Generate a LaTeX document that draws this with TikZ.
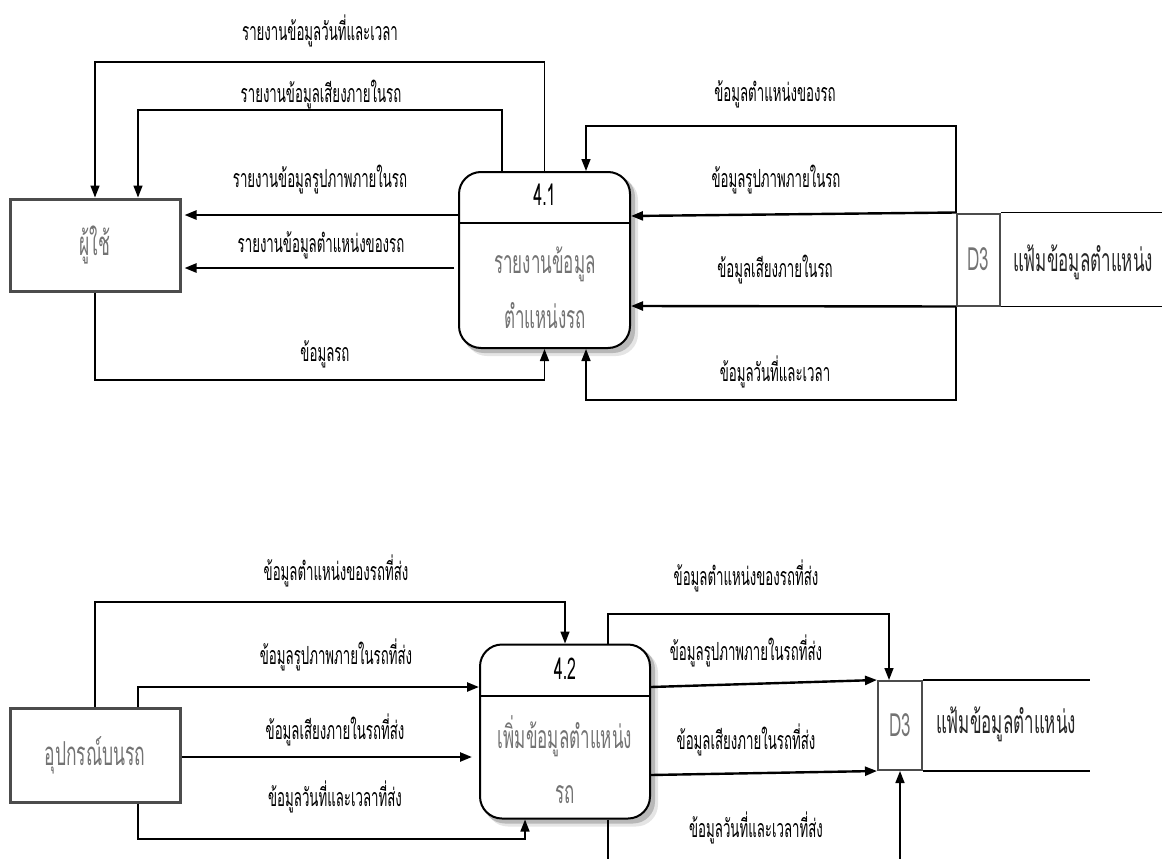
\documentclass[tikz,border=0pt]{standalone}
\usepackage{fontspec}
\setmainfont{Liberation Sans}
\newfontfamily\thaifont[Script=Thai,FakeStretch=0.53]{Loma}
\usetikzlibrary{arrows.meta,backgrounds}

\tikzset{
  flow/.style={line width=1.5pt,-{Triangle[length=12pt,width=9pt]}},
  bigflow/.style={flow,line width=2.4pt},
  lbl/.style={anchor=center,inner sep=0pt,font=\thaifont\fontsize{25}{28}\selectfont},
  extbox/.style={draw=black!70,line width=3pt,minimum width=170pt,minimum height=92pt,
    text=black!55,font=\thaifont\fontsize{33}{36}\selectfont},
  procbox/.style={draw=black,line width=2pt,rounded corners=22pt,fill=white},
  pshadow/.style={rounded corners=22pt},
  ptitle/.style={inner sep=0pt,font=\thaifont\fontsize{30}{32}\selectfont},
  ptext/.style={inner sep=0pt,align=center,text=black!55,font=\thaifont\fontsize{32}{55}\selectfont},
  storeid/.style={draw=black!70,line width=2pt,minimum width=43pt,minimum height=92pt,
    text=black!55,font=\thaifont\fontsize{32}{34}\selectfont},
  storename/.style={inner sep=0pt,text=black!85,font=\thaifont\fontsize{32}{36}\selectfont},
}

\begin{document}
\begin{tikzpicture}[x=1pt, y=-1pt, line cap=butt, line join=miter]

  %% ════ top half: 4.1 ════
  \node[extbox] (user) at (95,245) {ผู้ใช้};
  \node[procbox,minimum width=171pt,minimum height=176pt] (p41) at (544.5,260) {};
  \draw[line width=1.5pt] (p41.west |- 0,223) -- (p41.east |- 0,223);
  \node[ptitle] (p41id) at (544.5,195) {4.1};
  \node[ptext] (p41txt) at (545,288) {รายงานข้อมูล\\ตำแหน่งรถ};

  \node[storeid] (d3a) at (978.5,259.5) {D3};
  \draw[line width=1.5pt] (d3a.north east) -- (1162,0 |- d3a.north east);
  \draw[line width=1.5pt] (d3a.south east) -- (1162,0 |- d3a.south east);
  \node[storename] (d3aname) at (1083,262) {แฟ้มข้อมูลตำแหน่ง};

  \draw[flow]    (p41.north) |- (95,62) -- (user.north);
  \draw[flow]    (502,0 |- p41.north) |- (138,110) -- (138,0 |- user.north);
  \draw[bigflow,shorten >=3pt] (p41.west |- 0,215) -- (user.east |- 0,215);
  \draw[bigflow,shorten <=4pt,shorten >=3pt] (p41.west |- 0,268) -- (user.east |- 0,268);
  \draw[flow]    (user.south) |- (544.5,380) -- (p41.south);

  \draw[flow]    (d3a.north west) |- (586,126) -- (586,0 |- p41.north);
  \draw[bigflow] (d3a.north west) -- (p41.east |- 0,216);
  \draw[bigflow] (d3a.south west) -- (p41.east |- 0,306);
  \draw[flow]    (d3a.south west) |- (586,400) -- (586,0 |- p41.south);

  \node[lbl] (t1) at (320,31)  {รายงานข้อมูลวันที่และเวลา};
  \node[lbl] (t2) at (321,95)  {รายงานข้อมูลเสียงภายในรถ};
  \node[lbl] (t3) at (320,180) {รายงานข้อมูลรูปภาพภายในรถ};
  \node[lbl] (t4) at (321,245) {รายงานข้อมูลตำแหน่งของรถ};
  \node[lbl] (t5) at (325,354) {ข้อมูลรถ};
  \node[lbl] (t6) at (775,94)  {ข้อมูลตำแหน่งของรถ};
  \node[lbl] (t7) at (776,180) {ข้อมูลรูปภาพภายในรถ};
  \node[lbl] (t8) at (775,270) {ข้อมูลเสียงภายในรถ};
  \node[lbl] (t9) at (775,372) {ข้อมูลวันที่และเวลา};

  %% ════ bottom half: 4.2 ════
  \node[extbox,minimum height=94pt] (dev) at (95,755) {อุปกรณ์บนรถ};
  \node[procbox,minimum width=170pt,minimum height=174pt] (p42) at (565,731.5) {};
  \draw[line width=1.5pt] (p42.west |- 0,696) -- (p42.east |- 0,696);
  \node[ptitle] (p42id) at (565,669) {4.2};
  \node[ptext] (p42txt) at (565,759.5) {เพิ่มข้อมูลตำแหน่ง\\รถ};

  \node[storeid,minimum width=44pt,minimum height=89pt] (d3b) at (900,725.5) {D3};
  \draw[line width=1.5pt] (d3b.north east) -- (1090,0 |- d3b.north east);
  \draw[line width=1.5pt] (d3b.south east) -- (1090,0 |- d3b.south east);
  \node[storename] (d3bname) at (1006,724) {แฟ้มข้อมูลตำแหน่ง};

  \draw[flow]    (dev.north) |- (565,602) -- (p42.north);
  \draw[bigflow] (138,0 |- dev.north) |- (p42.west |- 0,687);
  \draw[bigflow,shorten >=7pt] (dev.east |- 0,757) -- (p42.west |- 0,757);
  \draw[flow]    (138,0 |- dev.south) |- (525,839) -- (525,0 |- p42.south);

  \draw[flow]    (608,0 |- p42.north) |- (889,614) -- (889,0 |- d3b.north);
  \draw[bigflow] (p42.east |- 0,687) -- (d3b.north west);
  \draw[bigflow] (p42.east |- 0,775) -- (d3b.south west);
  \draw[flow]    (608,0 |- p42.south) |- (900,900) -- (d3b.south);

  \node[lbl] (t10) at (336,571) {ข้อมูลตำแหน่งของรถที่ส่ง};
  \node[lbl] (t11) at (336,655) {ข้อมูลรูปภาพภายในรถที่ส่ง};
  \node[lbl] (t12) at (335,730) {ข้อมูลเสียงภายในรถที่ส่ง};
  \node[lbl] (t13) at (335,797) {ข้อมูลวันที่และเวลาที่ส่ง};
  \node[lbl] (t14) at (746,576) {ข้อมูลตำแหน่งของรถที่ส่ง};
  \node[lbl] (t15) at (746,651) {ข้อมูลรูปภาพภายในรถที่ส่ง};
  \node[lbl] (t16) at (746,740) {ข้อมูลเสียงภายในรถที่ส่ง};
  \node[lbl] (t17) at (756,828) {ข้อมูลวันที่และเวลาที่ส่ง};

  %% ════ soft shadows under the two process boxes ════
  \begin{scope}[on background layer]
    \foreach \p in {p41,p42} {
      \fill[pshadow,black!10] ([shift={(7pt,-7pt)}]\p.north west) rectangle ([shift={(7pt,-7pt)}]\p.south east);
      \fill[pshadow,black!28] ([shift={(4pt,-4pt)}]\p.north west) rectangle ([shift={(4pt,-4pt)}]\p.south east);
    }
  \end{scope}

  % fix the canvas to the reference size
  \pgfresetboundingbox
  \path[use as bounding box] (0,0) rectangle (1162,859);
\end{tikzpicture}
\end{document}
